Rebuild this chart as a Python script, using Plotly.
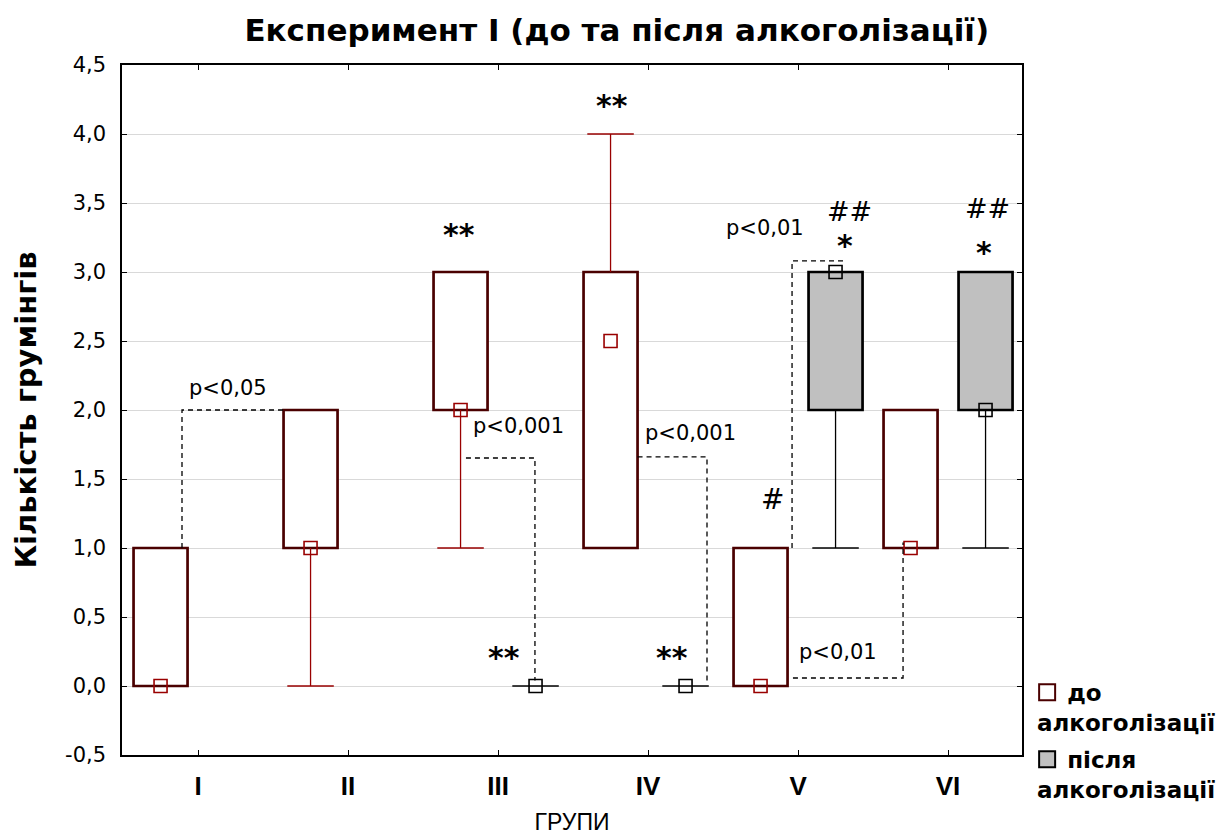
import plotly.graph_objects as go

# ---------------- data ----------------
groups = ["I", "II", "III", "IV", "V", "VI"]
group_pos = [1, 2, 3, 4, 5, 6]

# "до алкоголізації"
before_min = [0, 0, 1, 1, 0, 1]
before_q1 = [0, 1, 2, 1, 0, 1]
before_med = [0, 1, 2, 2.5, 0, 1]
before_q3 = [1, 2, 3, 3, 1, 2]
before_max = [1, 2, 3, 4, 1, 2]

# "після алкоголізації" (no data for groups I and II)
after_min = [None, None, 0, 0, 1, 1]
after_q1 = [None, None, 0, 0, 2, 2]
after_med = [None, None, 0, 0, 3, 2]
after_q3 = [None, None, 0, 0, 3, 3]
after_max = [None, None, 0, 0, 3, 3]

y_ticks = [-0.5, 0, 0.5, 1, 1.5, 2, 2.5, 3, 3.5, 4, 4.5]
y_ticklabels = ["-0,5", "0,0", "0,5", "1,0", "1,5", "2,0", "2,5", "3,0", "3,5", "4,0", "4,5"]

# ---------------- style ----------------
WIDE = "DejaVu Sans, Verdana, sans-serif"
NARROW = "Liberation Sans Narrow, Arial Narrow, Liberation Sans, Arial, sans-serif"
OFF = 0.25
BOXW = 0.36
CAPW = 0.31
C_BEFORE_EDGE = "#4a0000"
C_BEFORE = "#990000"
C_AFTER_EDGE = "#000000"
C_AFTER_FILL = "#c0c0c0"

fig = go.Figure()


def add_series(offset, mn, q1, md, q3, mx, edge, fill, wcolor, name):
    xs = [p + offset for p in group_pos]
    bx, bbase, bh = [], [], []
    for x, a, b in zip(xs, q1, q3):
        if a is not None and b is not None and b > a:
            bx.append(x)
            bbase.append(a)
            bh.append(b - a)
    fig.add_trace(go.Bar(x=bx, y=bh, base=bbase, width=BOXW,
                         marker=dict(color=fill, line=dict(color=edge, width=2.7)),
                         showlegend=False, hoverinfo="skip"))
    wx, wy = [], []
    for x, lo, a, b, hi in zip(xs, mn, q1, q3, mx):
        if lo is None:
            continue
        if lo < a or a == b:
            wx += [x, x, None, x - CAPW / 2, x + CAPW / 2, None]
            wy += [a, lo, None, lo, lo, None]
        if hi > b:
            wx += [x, x, None, x - CAPW / 2, x + CAPW / 2, None]
            wy += [b, hi, None, hi, hi, None]
    fig.add_trace(go.Scatter(x=wx, y=wy, mode="lines",
                             line=dict(color=wcolor, width=1.3),
                             showlegend=False, hoverinfo="skip"))
    mxs = [x for x, m in zip(xs, md) if m is not None]
    mys = [m for m in md if m is not None]
    fig.add_trace(go.Scatter(x=mxs, y=mys, mode="markers",
                             marker=dict(symbol="square-open", size=13,
                                         color=wcolor, line=dict(width=1.6)),
                             showlegend=False, hoverinfo="skip"))
    # legend entry
    fig.add_trace(go.Scatter(x=[None], y=[None], mode="markers", name=name,
                             legendgroup=name,
                             marker=dict(symbol="square", size=22, color=fill,
                                         line=dict(color=edge, width=2))))


add_series(-OFF, before_min, before_q1, before_med, before_q3, before_max,
           C_BEFORE_EDGE, "white", C_BEFORE, "до")
add_series(+OFF, after_min, after_q1, after_med, after_q3, after_max,
           C_AFTER_EDGE, C_AFTER_FILL, "#000000", "після")

# ---------------- significance brackets ----------------
brackets = [
    ([0.893, 0.893, 1.58], [1.0, 2.0, 2.0]),
    ([2.786, 3.246, 3.246], [1.652, 1.652, 0.04]),
    ([3.93, 4.393, 4.393], [1.66, 1.66, 0.04]),
    ([4.96, 4.96, 5.30], [1.0, 3.08, 3.08]),
    ([4.966, 5.70, 5.70], [0.058, 0.058, 1.04]),
]
for bxs, bys in brackets:
    fig.add_trace(go.Scatter(x=bxs, y=bys, mode="lines",
                             line=dict(color="black", width=1.3, dash="5px,4px"),
                             showlegend=False, hoverinfo="skip"))

p_labels = [
    (1.20, 2.16, "p<0,05"),
    (3.133, 1.884, "p<0,001"),
    (4.28, 1.833, "p<0,001"),
    (4.78, 3.32, "p<0,01"),
    (5.266, 0.246, "p<0,01"),
]
for x, y, t in p_labels:
    fig.add_annotation(x=x, y=y, text=t, showarrow=False,
                       font=dict(family=WIDE, size=21, color="black"))

marks = [
    (2.74, 3.27, "**", 30, "bold"),
    (3.76, 4.21, "**", 30, "bold"),
    (3.04, 0.21, "**", 30, "bold"),
    (4.16, 0.21, "**", 30, "bold"),
    (5.31, 3.19, "*", 30, "bold"),
    (6.24, 3.14, "*", 30, "bold"),
    (4.83, 1.35, "#", 28, "normal"),
    (5.34, 3.44, "##", 27, "normal"),
    (6.26, 3.46, "##", 27, "normal"),
]
for x, y, t, s, w in marks:
    fig.add_annotation(x=x, y=y, text=t, showarrow=False,
                       font=dict(family=WIDE, size=s, color="black", weight=w))

# legend continuation lines
for yy in [0.0464, -0.0507]:
    fig.add_annotation(xref="paper", yref="paper", x=1.0144, y=yy,
                       xanchor="left", yanchor="middle", text="алкоголізації",
                       showarrow=False,
                       font=dict(family=WIDE, size=23, color="black", weight="bold"))

fig.update_layout(
    width=1220, height=827,
    margin=dict(l=114, r=206, t=57, b=80),
    paper_bgcolor="white", plot_bgcolor="white",
    font=dict(family=WIDE, color="black"),
    barmode="overlay",
    title=dict(text="Експеримент І (до та після алкоголізації)",
               x=0.499, xanchor="center", y=0.973, yanchor="middle",
               font=dict(family=WIDE, size=31, color="black", weight="bold")),
    legend=dict(x=1.0057, xanchor="left", y=0.122, yanchor="top",
                font=dict(family=WIDE, size=23, color="black", weight="bold"),
                tracegroupgap=34, bgcolor="rgba(0,0,0,0)"),
    xaxis=dict(range=[0.493, 6.493], tickvals=group_pos, ticktext=groups,
               ticks="inside", ticklen=5, tickcolor="black",
               showline=True, linecolor="black", linewidth=1.5, mirror="ticks",
               showgrid=False, zeroline=False, automargin=False,
               tickfont=dict(family=NARROW, size=26, weight="bold"),
               ticklabelstandoff=7,
               title=dict(text="ГРУПИ", font=dict(family=NARROW, size=23), standoff=19)),
    yaxis=dict(range=[-0.5, 4.5], tickvals=y_ticks, ticktext=y_ticklabels,
               ticks="inside", ticklen=5, tickcolor="black",
               showline=True, linecolor="black", linewidth=1.5, mirror="ticks",
               showgrid=True, gridcolor="#d9d9d9", gridwidth=1, zeroline=False,
               automargin=False,
               tickfont=dict(family=WIDE, size=21),
               ticklabelstandoff=10,
               title=dict(text="Кількість грумінгів",
                          font=dict(family=WIDE, size=29, weight="bold"), standoff=20)),
)

fig.write_html("out.html")
